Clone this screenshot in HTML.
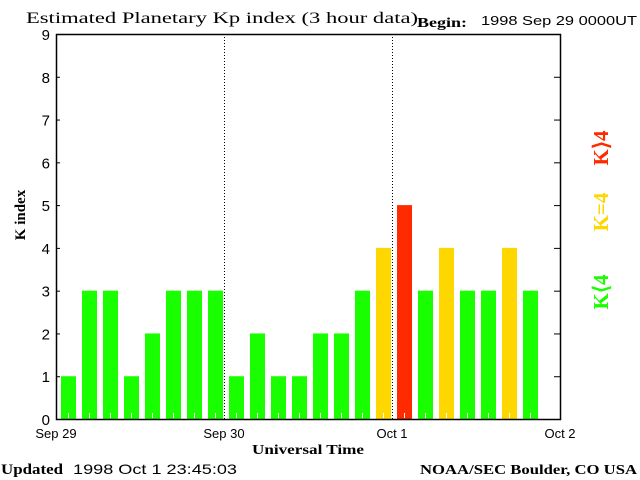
<!DOCTYPE html>
<html><head><meta charset="utf-8"><style>
body{margin:0;background:#fff;}
svg{display:block;}
.serif{font-family:"Liberation Serif",serif;font-weight:bold;}
.sans{font-family:"Liberation Sans",sans-serif;}
</style></head><body>
<svg id="chart" width="640" height="480" xmlns="http://www.w3.org/2000/svg">
<text x="26" y="23" class="serif" font-size="16" style="font-weight:normal" textLength="392" lengthAdjust="spacingAndGlyphs">Estimated Planetary Kp index (3 hour data)</text>
<text x="417" y="27" class="serif" font-size="14" textLength="50" lengthAdjust="spacingAndGlyphs">Begin:</text>
<text x="481" y="25" class="sans" font-size="13" textLength="156" lengthAdjust="spacingAndGlyphs">1998 Sep 29 0000UT</text>
<text transform="translate(25,215) rotate(-90)" text-anchor="middle" class="serif" font-size="15">K index</text>
<text x="252" y="454" class="serif" font-size="14" textLength="112" lengthAdjust="spacingAndGlyphs">Universal Time</text>
<text x="1" y="474" class="serif" font-size="15" textLength="62" lengthAdjust="spacingAndGlyphs">Updated</text>
<text x="73" y="474" class="sans" font-size="14" textLength="164" lengthAdjust="spacingAndGlyphs">1998 Oct  1 23:45:03</text>
<text x="420" y="474" class="serif" font-size="14" textLength="217" lengthAdjust="spacingAndGlyphs">NOAA/SEC Boulder, CO USA</text>
<text transform="translate(608,292) rotate(-90)" text-anchor="middle" class="serif" font-size="21" fill="#1aff00">K⟨4</text>
<text transform="translate(608,212) rotate(-90)" text-anchor="middle" class="serif" font-size="21" fill="#ffd700">K=4</text>
<text transform="translate(608,148) rotate(-90)" text-anchor="middle" class="serif" font-size="21" fill="#ff2a00">K⟩4</text>
<g id="plot"></g>
</svg>
<script>
const kpValues = [1,3,3,1,2,3,3,3, 1,2,1,1,2,2,3,4, 5,3,4,3,3,4,3];
const yTicks = [0,1,2,3,4,5,6,7,8,9];
const dayLabels = ["Sep 29","Sep 30","Oct 1","Oct 2"];
const X0=56,X1=560,Y0=419,Y1=34,SLOTS=24;
const NS="http://www.w3.org/2000/svg";
const g=document.getElementById('plot');
function xs(i){return X0+(X1-X0)*i/SLOTS;}
function ys(v){return Y0-(Y0-Y1)*v/9;}
function mk(t,a){const e=document.createElementNS(NS,t);for(const k in a)e.setAttribute(k,a[k]);g.appendChild(e);return e;}
const slotW=(X1-X0)/SLOTS;
kpValues.forEach((v,i)=>{
  const col=v<4?'#1aff00':(v===4?'#ffd700':'#ff2a00');
  const r=mk('rect',{x:xs(i)+5,y:ys(v),width:slotW-6,height:Y0-ys(v),fill:col});
  
  
  const t=mk('line',{x1:xs(i)+5+(slotW-6)/2,x2:xs(i)+5+(slotW-6)/2,y1:Y0-1,y2:Y0-6,stroke:'#fff','stroke-width':1});
  
  
});
dayLabels.forEach((d,i)=>{
  const x=X0+(X1-X0)*i/3;
  if(i>0&&i<3){const l=mk('line',{x1:x+0.5,x2:x+0.5,y1:Y1,y2:Y0,stroke:'#000','stroke-dasharray':'1,2'});
    
    }
  const t=mk('text',{x:x,y:438,'text-anchor':'middle','font-family':'Liberation Sans, sans-serif','font-size':13});
  t.textContent=d;
  
  
});
yTicks.forEach(v=>{
  const y=ys(v);
  const t=mk('text',{x:50,y:y+6,'text-anchor':'end','font-family':'Liberation Sans, sans-serif','font-size':15});
  t.textContent=v;
  
  
  const a=mk('line',{x1:X0,x2:X0+4,y1:y+0.5,y2:y+0.5,stroke:'#000'});
  
  
  const b=mk('line',{x1:X1-6,x2:X1,y1:y+0.5,y2:y+0.5,stroke:'#000'});
  
  
});
const frame=mk('rect',{x:X0+0.5,y:Y1+0.5,width:X1-X0,height:Y0-Y1,fill:'none',stroke:'#000','stroke-width':1.5});


</script>
</body></html>
